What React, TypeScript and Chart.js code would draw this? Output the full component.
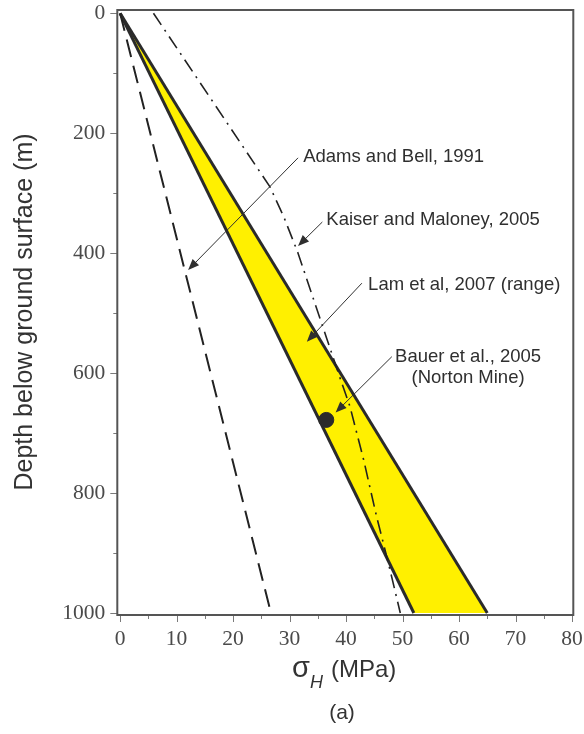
import React, { useEffect, useRef } from 'react';
import { Chart, registerables } from 'chart.js';

Chart.register(...registerables);

// ---- Axis ticks ----
const xTickValues = [0, 10, 20, 30, 40, 50, 60, 70, 80];
const xMinorTicks = [5, 15, 25, 35, 45, 55, 65, 75];
const yTickValues = [0, 200, 400, 600, 800, 1000];
const yMinorTicks = [100, 300, 500, 700, 900];

// ---- Series (depth in m, sigma_H in MPa) ----
const adamsDepth = [0, 1000];
const adamsStress = [0, 26.7];

const lamDepth = [0, 1000];
const lamLowStress = [0, 52.0];
const lamHighStress = [0, 65.0];

const kaiserDepth = [0, 289, 340, 400, 470, 540, 610, 656, 744, 839, 917, 1000];
const kaiserStress = [5.9, 26.5, 29.0, 31.5, 34.0, 36.5, 39.0, 40.7, 43.1, 45.4, 47.5, 49.6];

const bauerDepth = [678];
const bauerStress = [36.5];

// ---- Annotation labels (anchored in data coordinates) ----
const annotationTexts = [
  ['Adams and Bell, 1991'],
  ['Kaiser and Maloney, 2005'],
  ['Lam et al, 2007 (range)'],
  ['Bauer et al., 2005', '(Norton Mine)'],
];

const annotationLayout = [
  { at: [32.4, 239.6], align: 'left', from: [31.5, 241], to: [12.04, 428] },
  { at: [36.5, 344.5], align: 'left', from: [35.8, 348], to: [31.5, 388] },
  { at: [43.9, 453], align: 'left', from: [42.8, 450], to: [33.06, 547.6] },
  { at: [61.6, 573], align: 'center', from: [48.1, 572.6], to: [38.15, 665.6] },
];

const toPoints = (xs: number[], ys: number[]) => xs.map((x, i) => ({ x, y: ys[i] }));

const overlayPlugin = {
  id: 'overlay',
  afterDraw(chart: any) {
    const { ctx, chartArea: a } = chart;
    const xs = chart.scales.x;
    const ys = chart.scales.y;
    ctx.save();

    // tick marks
    ctx.strokeStyle = '#7a7a7a';
    ctx.lineWidth = 1;
    const seg = (x1: number, y1: number, x2: number, y2: number) => {
      ctx.beginPath();
      ctx.moveTo(x1, y1);
      ctx.lineTo(x2, y2);
      ctx.stroke();
    };
    xTickValues.forEach((v) => {
      const p = Math.round(xs.getPixelForValue(v)) + 0.5;
      seg(p, a.bottom, p, a.bottom + 7);
    });
    xMinorTicks.forEach((v) => {
      const p = Math.round(xs.getPixelForValue(v)) + 0.5;
      seg(p, a.bottom, p, a.bottom + 4);
    });
    yTickValues.forEach((v) => {
      const p = Math.round(ys.getPixelForValue(v)) + 0.5;
      seg(a.left - 7, p, a.left, p);
    });
    yMinorTicks.forEach((v) => {
      const p = Math.round(ys.getPixelForValue(v)) + 0.5;
      seg(a.left - 4, p, a.left, p);
    });

    // frame
    ctx.strokeStyle = '#555';
    ctx.lineWidth = 2;
    ctx.strokeRect(a.left, a.top, a.right - a.left, a.bottom - a.top);

    // annotations
    ctx.fillStyle = '#2f2f2f';
    ctx.strokeStyle = '#2f2f2f';
    ctx.font = '18.5px "Liberation Sans", Arial, sans-serif';
    ctx.textBaseline = 'middle';
    annotationLayout.forEach((an, i) => {
      const tx = xs.getPixelForValue(an.at[0]);
      const ty = ys.getPixelForValue(an.at[1]);
      ctx.textAlign = an.align;
      annotationTexts[i].forEach((t, k) => ctx.fillText(t, tx, ty + k * 21));
      const fx = xs.getPixelForValue(an.from[0]);
      const fy = ys.getPixelForValue(an.from[1]);
      const ex = xs.getPixelForValue(an.to[0]);
      const ey = ys.getPixelForValue(an.to[1]);
      const ang = Math.atan2(ey - fy, ex - fx);
      const hl = 11;
      const hw = 4.5;
      ctx.lineWidth = 1;
      seg(fx, fy, ex - Math.cos(ang) * hl * 0.8, ey - Math.sin(ang) * hl * 0.8);
      ctx.beginPath();
      ctx.moveTo(ex, ey);
      ctx.lineTo(ex - Math.cos(ang) * hl - Math.sin(ang) * hw, ey - Math.sin(ang) * hl + Math.cos(ang) * hw);
      ctx.lineTo(ex - Math.cos(ang) * hl + Math.sin(ang) * hw, ey - Math.sin(ang) * hl - Math.cos(ang) * hw);
      ctx.closePath();
      ctx.fill();
    });

    // y axis title
    ctx.fillStyle = '#333';
    ctx.save();
    ctx.translate(25, 312);
    ctx.rotate(-Math.PI / 2);
    ctx.textAlign = 'center';
    ctx.textBaseline = 'middle';
    ctx.font = '25px "Liberation Sans", Arial, sans-serif';
    ctx.fillText('Depth below ground surface (m)', 0, 0);
    ctx.restore();

    // x axis title: sigma_H (MPa)
    ctx.textAlign = 'left';
    ctx.textBaseline = 'alphabetic';
    ctx.font = '29px "Liberation Sans", Arial, sans-serif';
    ctx.fillText('σ', 292, 677);
    ctx.font = 'italic 18px "Liberation Sans", Arial, sans-serif';
    ctx.fillText('H', 310, 688);
    ctx.font = '24px "Liberation Sans", Arial, sans-serif';
    ctx.fillText('(MPa)', 331, 677);

    // panel label
    ctx.textAlign = 'center';
    ctx.textBaseline = 'middle';
    ctx.font = '21px "Liberation Sans", Arial, sans-serif';
    ctx.fillText('(a)', 342, 713);

    ctx.restore();
  },
};

export default function App() {
  const ref = useRef<HTMLCanvasElement | null>(null);

  useEffect(() => {
    if (!ref.current) return;
    const lamShape = [
      ...toPoints(lamLowStress, lamDepth),
      ...toPoints(lamHighStress, lamDepth).reverse(),
    ];
    const chart = new Chart(ref.current, {
      type: 'scatter',
      data: {
        datasets: [
          {
            label: 'Lam range fill',
            data: lamShape,
            showLine: true,
            fill: 'shape',
            backgroundColor: '#FFF000',
            borderWidth: 0,
            borderColor: 'rgba(0,0,0,0)',
            pointRadius: 0,
            order: 10,
          },
          {
            label: 'Lam low',
            data: toPoints(lamLowStress, lamDepth),
            showLine: true,
            borderColor: '#2b2b2b',
            borderWidth: 3,
            pointRadius: 0,
            order: 6,
          },
          {
            label: 'Lam high',
            data: toPoints(lamHighStress, lamDepth),
            showLine: true,
            borderColor: '#2b2b2b',
            borderWidth: 3,
            pointRadius: 0,
            order: 6,
          },
          {
            label: 'Adams and Bell',
            data: toPoints(adamsStress, adamsDepth),
            showLine: true,
            borderColor: '#222',
            borderWidth: 2,
            borderDash: [18, 9],
            pointRadius: 0,
            order: 4,
          },
          {
            label: 'Kaiser and Maloney',
            data: toPoints(kaiserStress, kaiserDepth),
            showLine: true,
            borderColor: '#222',
            borderWidth: 1.6,
            borderDash: [14, 6, 2, 6],
            pointRadius: 0,
            order: 3,
          },
          {
            label: 'Bauer',
            data: toPoints(bauerStress, bauerDepth),
            showLine: false,
            backgroundColor: '#2b2b2b',
            borderColor: '#2b2b2b',
            pointRadius: 7.5,
            order: 1,
          },
        ],
      },
      options: {
        animation: false,
        responsive: false,
        devicePixelRatio: 1,
        events: [],
        layout: { padding: { left: 8, right: 10.7, top: 10, bottom: 0 } },
        plugins: { legend: { display: false }, tooltip: { enabled: false } },
        scales: {
          x: {
            type: 'linear',
            min: -0.5,
            max: 80.23,
            afterBuildTicks: (s: any) => {
              s.ticks = xTickValues.map((v) => ({ value: v }));
            },
            afterFit: (s: any) => {
              s.height = 119;
              s.paddingLeft = 0;
              s.paddingRight = 0;
            },
            grid: { display: false, drawTicks: false },
            border: { display: false },
            ticks: {
              autoSkip: false,
              maxRotation: 0,
              padding: 11,
              color: '#4a4a4a',
              callback: (v: any) => String(v),
              font: { family: '"Liberation Serif", "Times New Roman", serif', size: 21.5 },
            },
          },
          y: {
            type: 'linear',
            reverse: true,
            min: -5.5,
            max: 1003.3,
            afterBuildTicks: (s: any) => {
              s.ticks = yTickValues.map((v) => ({ value: v }));
            },
            afterFit: (s: any) => {
              s.width = 109.3;
              s.paddingTop = 0;
              s.paddingBottom = 0;
            },
            grid: { display: false, drawTicks: false },
            border: { display: false },
            ticks: {
              autoSkip: false,
              padding: 12,
              color: '#4a4a4a',
              callback: (v: any) => String(v),
              font: { family: '"Liberation Serif", "Times New Roman", serif', size: 21.5 },
            },
          },
        },
      },
      plugins: [overlayPlugin],
    } as any);
    return () => chart.destroy();
  }, []);

  return (
    <div style={{ position: 'absolute', left: 0, top: 0, width: 584, height: 734, background: '#fff' }}>
      <canvas ref={ref} width={584} height={734} style={{ display: 'block' }} />
    </div>
  );
}
